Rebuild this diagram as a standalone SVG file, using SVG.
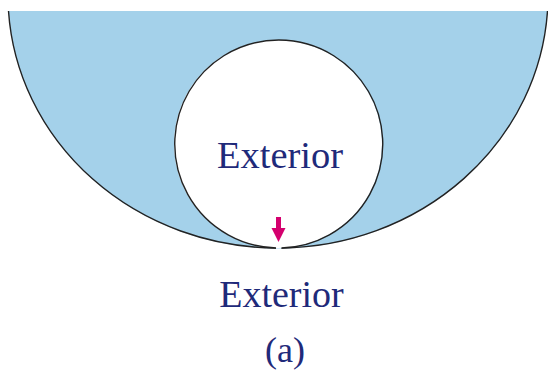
<svg xmlns="http://www.w3.org/2000/svg" width="548" height="373" viewBox="0 0 548 373">
<style>
.fill{fill:#a4d1ea;stroke:none}
.line{fill:none;stroke:#222;stroke-width:1.4}
.lbl{font-family:"Liberation Serif","Times New Roman",serif;fill:#1f2a7a;text-anchor:middle}
</style>
<rect width="548" height="373" fill="#fff"/>
<g id="region">
<path class="fill" d="M8.5,11 L547.5,11 A270,253 0 0 1 8.5,11 Z"/>
<path class="line" d="M547.5,11 A270,253 0 0 1 281.5,248"/>
<path class="line" d="M276,248 A270,253 0 0 1 8.5,11"/>
</g>
<g id="hole">
<circle cx="278" cy="144" r="104" fill="#fff"/>
<path class="line" d="M276,248 A104,104 0 1 1 281.5,248"/>
</g>
<g id="arrow">
<rect x="276" y="217" width="5" height="12" fill="#d4006e"/>
<polygon points="271.5,228 285.5,228 278.5,242" fill="#d4006e"/>
</g>
<g id="labels">
<text class="lbl" x="280" y="168" font-size="38.5">Exterior</text>
<text class="lbl" x="281.5" y="307" font-size="38">Exterior</text>
<text class="lbl" x="285" y="362" font-size="36">(a)</text>
</g>
</svg>
